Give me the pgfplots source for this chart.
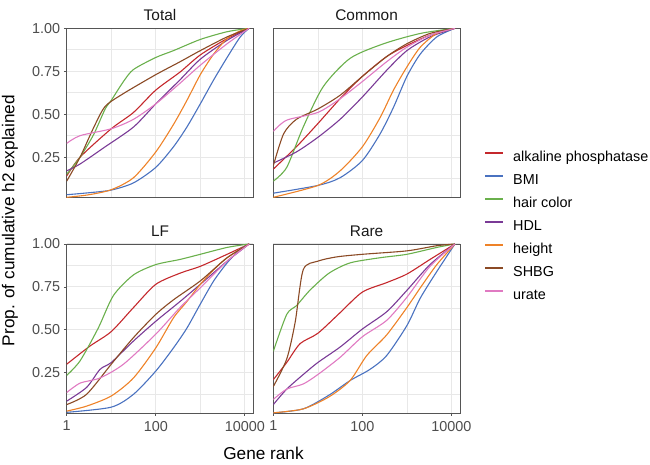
\documentclass[border=0pt]{standalone}
\usepackage{pgfplots}
\pgfplotsset{compat=1.18}
\usepackage{fontspec}
\setmainfont{Liberation Sans}
\definecolor{cAlk}{HTML}{C4282C}
\definecolor{cBMI}{HTML}{4A72C0}
\definecolor{cHair}{HTML}{6AB04C}
\definecolor{cHDL}{HTML}{7A3A96}
\definecolor{cHeight}{HTML}{EE8228}
\definecolor{cSHBG}{HTML}{8B4A25}
\definecolor{cUrate}{HTML}{E07AC2}
\definecolor{gridc}{HTML}{E8E8E8}
\definecolor{borderc}{HTML}{555555}
\definecolor{tickc}{HTML}{4D4D4D}
\pgfplotsset{
  mypanel/.style={
    scale only axis, width=186.6pt, height=169pt,
    xmin=1, xmax=15500, ymin=0.016, ymax=1,
    xtick={1,100,10000}, xticklabels={1,100,10000},
    minor xtick={10,1000},
    ytick={0.25,0.5,0.75,1}, yticklabels={0.25,0.50,0.75,1.00},
    minor ytick={0.125,0.375,0.625,0.875},
    grid=both,
    major grid style={gridc, line width=1pt},
    minor grid style={gridc, line width=0.55pt},
    axis line style={borderc, line width=0.8pt},
    tick align=outside, tick pos=left,
    major tick length=2.75pt,
    major tick style={borderc, line width=0.8pt},
    minor tick length=0pt,
    ticklabel style={font=\fontsize{14.4}{17}\selectfont, text=tickc},
    yticklabel style={anchor=east, inner sep=0pt, xshift=-3.5pt},
    xticklabel style={anchor=north, inner sep=0pt, yshift=-5pt},
    every axis plot/.append style={line width=1.1pt, smooth, tension=0.45},
  },
  noxlab/.style={xticklabels={}, major x tick style={draw=none}},
  noylab/.style={yticklabels={}, major y tick style={draw=none}},
}
\begin{document}
\begin{tikzpicture}
% ---------------- Total ----------------
\begin{semilogxaxis}[mypanel, noxlab, at={(66.7pt,436.7pt)}, anchor=north west]
\addplot[cAlk] coordinates {(1,0.14) (2,0.25) (10,0.415) (31.6,0.51) (100,0.64) (350,0.745) (1000,0.845) (4000,0.94) (12500,1)};
\addplot[cBMI] coordinates {(1,0.031) (3,0.042) (10,0.058) (31.6,0.10) (100,0.19) (250,0.31) (500,0.425) (1000,0.56) (2000,0.70) (4000,0.83) (7900,0.95) (12500,1)};
\addplot[cHair] coordinates {(1,0.15) (2,0.25) (4,0.38) (7.3,0.53) (10,0.58) (18.8,0.69) (31.6,0.76) (100,0.83) (250,0.87) (1000,0.935) (4000,0.98) (12500,1)};
\addplot[cHDL] coordinates {(1,0.17) (2,0.21) (7.3,0.31) (31.6,0.425) (100,0.56) (350,0.70) (1000,0.82) (4000,0.93) (12500,1)};
\addplot[cHeight] coordinates {(1,0.016) (3,0.03) (10,0.06) (31.6,0.13) (100,0.28) (250,0.44) (500,0.58) (1000,0.73) (2000,0.85) (4000,0.94) (7900,0.985) (12500,1)};
\addplot[cSHBG] coordinates {(1,0.11) (2,0.25) (4,0.42) (7.3,0.545) (18.8,0.62) (100,0.73) (350,0.805) (1000,0.87) (4000,0.95) (12500,1)};
\addplot[cUrate] coordinates {(1,0.33) (2,0.375) (10,0.415) (31.6,0.47) (100,0.56) (350,0.68) (1000,0.785) (4000,0.91) (12500,1)};
\end{semilogxaxis}
% ---------------- Common ----------------
\begin{semilogxaxis}[mypanel, noxlab, noylab, at={(273.3pt,436.7pt)}, anchor=north west,
  legend style={at={(1.13,0.278)}, anchor=north west, draw=none, fill=none,
    inner sep=0pt, row sep=9pt, column sep=9.5pt,
    font=\fontsize{14.4}{17}\selectfont,
    nodes={inner sep=0pt, text height=11pt, text depth=3pt}},
  legend cell align=left,
  legend image code/.code={\draw[#1, line width=1.3pt, sharp plot] plot coordinates {(0pt,4.5pt) (18pt,4.5pt)};}]
\addplot[cAlk] coordinates {(1,0.18) (3.3,0.31) (10,0.445) (31.6,0.59) (100,0.72) (350,0.835) (1000,0.90) (3300,0.96) (12000,1)};
\addlegendentry{alkaline phosphatase}
\addplot[cBMI] coordinates {(1,0.04) (10,0.085) (31.6,0.13) (100,0.23) (250,0.385) (500,0.54) (1000,0.72) (2000,0.85) (4700,0.95) (12000,1)};
\addlegendentry{BMI}
\addplot[cHair] coordinates {(1,0.11) (2,0.19) (4.7,0.425) (13.2,0.66) (53,0.825) (300,0.91) (2000,0.97) (12000,1)};
\addlegendentry{hair color}
\addplot[cHDL] coordinates {(1,0.215) (3.3,0.28) (10,0.365) (31.6,0.47) (100,0.60) (350,0.755) (1000,0.87) (3300,0.95) (12000,1)};
\addlegendentry{HDL}
\addplot[cHeight] coordinates {(1,0.016) (10,0.085) (31.6,0.17) (100,0.31) (250,0.48) (500,0.64) (1000,0.775) (2000,0.89) (4700,0.97) (12000,1)};
\addlegendentry{height}
\addplot[cSHBG] coordinates {(1,0.2) (1.7,0.385) (3.3,0.47) (10,0.53) (31.6,0.61) (100,0.72) (350,0.835) (1000,0.91) (3300,0.97) (12000,1)};
\addlegendentry{SHBG}
\addplot[cUrate] coordinates {(1,0.40) (2,0.465) (10,0.51) (31.6,0.59) (100,0.69) (350,0.805) (1000,0.89) (3300,0.96) (12000,1)};
\addlegendentry{urate}
\end{semilogxaxis}
% ---------------- LF ----------------
\begin{semilogxaxis}[mypanel, at={(66.7pt,221pt)}, anchor=north west]
\addplot[cAlk] coordinates {(1,0.30) (3.3,0.405) (10,0.49) (31.6,0.63) (100,0.765) (350,0.83) (1000,0.87) (4000,0.94) (12500,1)};
\addplot[cBMI] coordinates {(1,0.02) (10,0.05) (31.6,0.125) (100,0.26) (250,0.395) (500,0.51) (1000,0.65) (2000,0.785) (4000,0.89) (7900,0.97) (12500,1)};
\addplot[cHair] coordinates {(1,0.235) (2,0.32) (5.1,0.51) (11.2,0.70) (31.6,0.82) (100,0.88) (350,0.91) (1000,0.94) (4000,0.98) (12500,1)};
\addplot[cHDL] coordinates {(1,0.085) (2.8,0.165) (5.6,0.27) (10,0.31) (31.6,0.435) (100,0.55) (350,0.665) (1000,0.765) (4000,0.90) (12500,1)};
\addplot[cHeight] coordinates {(1,0.027) (2.8,0.056) (10,0.115) (31.6,0.22) (100,0.395) (250,0.57) (500,0.665) (1000,0.765) (2000,0.85) (4000,0.92) (12500,1)};
\addplot[cSHBG] coordinates {(1,0.065) (2.8,0.125) (10,0.30) (31.6,0.455) (100,0.59) (250,0.675) (1000,0.785) (4000,0.92) (12500,1)};
\addplot[cUrate] coordinates {(1,0.135) (2,0.19) (5.6,0.22) (18.8,0.30) (100,0.475) (350,0.63) (1000,0.745) (4000,0.90) (12500,1)};
\end{semilogxaxis}
% ---------------- Rare ----------------
\begin{semilogxaxis}[mypanel, noylab, at={(273.3pt,221pt)}, anchor=north west]
\addplot[cAlk] coordinates {(1,0.21) (2,0.31) (4,0.42) (10,0.48) (31.6,0.60) (100,0.72) (350,0.775) (1000,0.825) (3300,0.91) (12000,1)};
\addplot[cBMI] coordinates {(1,0.017) (4.7,0.04) (17.8,0.12) (53,0.205) (148,0.27) (350,0.35) (1000,0.525) (2000,0.685) (4700,0.84) (12000,1)};
\addplot[cHair] coordinates {(1,0.375) (2,0.59) (3.3,0.64) (6.6,0.73) (17.8,0.83) (53,0.89) (250,0.92) (1000,0.94) (4700,0.98) (12000,1)};
\addplot[cHDL] coordinates {(1,0.065) (2,0.155) (4.7,0.24) (10,0.31) (31.6,0.40) (100,0.505) (350,0.605) (1000,0.73) (3300,0.88) (12000,1)};
\addplot[cHeight] coordinates {(1,0.017) (4.7,0.04) (17.8,0.11) (53,0.205) (125,0.35) (350,0.47) (1000,0.63) (2000,0.745) (4700,0.88) (12000,1)};
\addplot[cSHBG] coordinates {(1,0.17) (2,0.33) (3.1,0.545) (4.7,0.85) (10,0.90) (26.6,0.925) (100,0.94) (1000,0.96) (4700,0.99) (12000,1)};
\addplot[cUrate] coordinates {(1,0.095) (2,0.155) (4.7,0.185) (10,0.24) (31.6,0.34) (100,0.46) (350,0.555) (1000,0.69) (3300,0.87) (12000,1)};
\end{semilogxaxis}
% ---------------- titles and labels ----------------
\begin{scope}[every node/.style={font=\fontsize{15.4}{18}\selectfont, text=black!90, anchor=base, inner sep=0pt}]
\node at (160pt,444.6pt) {Total};
\node at (366.6pt,444.6pt) {Common};
\node at (160pt,228.6pt) {LF};
\node at (366.6pt,228.6pt) {Rare};
\end{scope}
\node[font=\fontsize{17.2}{20}\selectfont, anchor=base, inner sep=0pt] at (263.5pt,5pt) {Gene rank};
\node[font=\fontsize{17.2}{20}\selectfont, anchor=base, inner sep=0pt, rotate=90] at (14.3pt,244.5pt) {Prop. of cumulative h2 explained};
\pgfresetboundingbox
\path (0,0) rectangle (650pt,465pt);
\end{tikzpicture}
\end{document}
